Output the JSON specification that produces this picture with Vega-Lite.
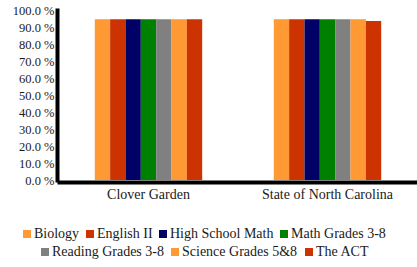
{
  "$schema": "https://vega.github.io/schema/vega-lite/v6.json",
  "width": 358,
  "height": 170,
  "autosize": {"type": "none"},
  "padding": {"left": 59, "top": 10, "right": 0, "bottom": 87},
  "background": "white",
  "data": {"values": [
    {"group": "Clover Garden", "subject": "Biology", "value": 94.5},
    {"group": "Clover Garden", "subject": "English II", "value": 94.5},
    {"group": "Clover Garden", "subject": "High School Math", "value": 94.5},
    {"group": "Clover Garden", "subject": "Math Grades 3-8", "value": 94.5},
    {"group": "Clover Garden", "subject": "Reading Grades 3-8", "value": 94.5},
    {"group": "Clover Garden", "subject": "Science Grades 5&8", "value": 94.5},
    {"group": "Clover Garden", "subject": "The ACT", "value": 94.5},
    {"group": "State of North Carolina", "subject": "Biology", "value": 94.5},
    {"group": "State of North Carolina", "subject": "English II", "value": 94.5},
    {"group": "State of North Carolina", "subject": "High School Math", "value": 94.5},
    {"group": "State of North Carolina", "subject": "Math Grades 3-8", "value": 94.5},
    {"group": "State of North Carolina", "subject": "Reading Grades 3-8", "value": 94.5},
    {"group": "State of North Carolina", "subject": "Science Grades 5&8", "value": 94.5},
    {"group": "State of North Carolina", "subject": "The ACT", "value": 93.5}
  ]},
  "encoding": {
    "x": {
      "field": "group", "type": "nominal", "title": null,
      "scale": {"paddingInner": 0.4, "paddingOuter": 0.2},
      "axis": {"labelAngle": 0, "ticks": false, "domainWidth": 4, "domainColor": "black", "domainCap": "square", "offset": 2, "labelPadding": 5, "labelFont": "Liberation Serif", "labelFontSize": 14, "labelColor": "#1a1a1a", "grid": false}
    },
    "xOffset": {"field": "subject", "type": "nominal", "scale": {"paddingInner": 0, "paddingOuter": 0, "domain": ["Biology", "English II", "High School Math", "Math Grades 3-8", "Reading Grades 3-8", "Science Grades 5&8", "The ACT"]}},
    "y": {
      "field": "value", "type": "quantitative", "title": null,
      "scale": {"domain": [0, 100], "nice": false},
      "axis": {"values": [0,10,20,30,40,50,60,70,80,90,100], "labelExpr": "format(datum.value, '.1f') + ' %'", "ticks": false, "grid": false, "domainWidth": 4, "domainColor": "black", "domainCap": "square", "offset": 2, "labelPadding": 3, "labelFont": "Liberation Serif", "labelFontSize": 12.5, "labelColor": "#1a1a1a"}
    }
  },
  "layer": [
    {
      "transform": [{"filter": {"field": "subject", "oneOf": ["Biology", "English II", "High School Math", "Math Grades 3-8"]}}],
      "mark": {"type": "bar", "stroke": null},
      "encoding": {
        "color": {
          "field": "subject", "type": "nominal", "title": null,
          "scale": {"domain": ["Biology", "English II", "High School Math", "Math Grades 3-8"], "range": ["#FF9933", "#CC3300", "#000066", "#008000"]},
          "legend": {"orient": "none", "direction": "horizontal", "legendX": -39, "legendY": 217, "symbolType": "square", "symbolSize": 64, "symbolStrokeWidth": 0, "labelFont": "Liberation Serif", "labelFontSize": 14, "labelColor": "#1a1a1a", "columnPadding": 3, "labelOffset": 0}
        }
      }
    },
    {
      "transform": [{"filter": {"field": "subject", "oneOf": ["Reading Grades 3-8", "Science Grades 5&8", "The ACT"]}}],
      "mark": {"type": "bar", "stroke": null},
      "encoding": {
        "color": {
          "field": "subject", "type": "nominal", "title": null,
          "scale": {"domain": ["Reading Grades 3-8", "Science Grades 5&8", "The ACT"], "range": ["#808080", "#FF9933", "#CC3300"]},
          "legend": {"orient": "none", "direction": "horizontal", "legendX": -21, "legendY": 235, "symbolType": "square", "symbolSize": 64, "symbolStrokeWidth": 0, "labelFont": "Liberation Serif", "labelFontSize": 14, "labelColor": "#1a1a1a", "columnPadding": 4, "labelOffset": 0}
        }
      }
    }
  ],
  "resolve": {"scale": {"color": "independent"}},
  "config": {"view": {"stroke": null}}
}
